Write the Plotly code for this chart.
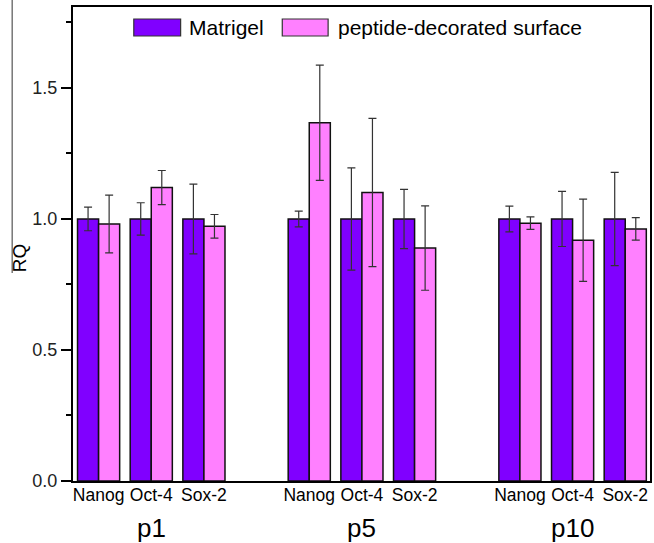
import plotly.graph_objects as go

genes = ["Nanog", "Oct-4", "Sox-2"]
passages = ["p1", "p5", "p10"]

matrigel = [1.0, 1.0, 1.0, 1.0, 1.0, 1.0, 1.0, 1.0, 1.0]
matrigel_err = [0.045, 0.062, 0.133, 0.030, 0.195, 0.113, 0.049, 0.105, 0.178]
peptide = [0.981, 1.120, 0.972, 1.367, 1.101, 0.889, 0.984, 0.919, 0.962]
peptide_err = [0.110, 0.065, 0.045, 0.220, 0.283, 0.161, 0.024, 0.157, 0.043]

# slot positions: each passage block of 3 genes, one empty slot between blocks
xpos = [pi * 4 + gi for pi in range(len(passages)) for gi in range(len(genes))]
xlabels = [g for _ in passages for g in genes]

c_mat = "#8000FF"
c_pep = "#FF80FF"
FONT = "Liberation Sans, Arial, sans-serif"

fig = go.Figure()
fig.add_trace(go.Bar(
    x=xpos, y=matrigel, name="Matrigel",
    marker=dict(color=c_mat, line=dict(color="#111", width=1.5)),
    error_y=dict(type="data", array=matrigel_err, visible=True,
                 color="#333", thickness=1.2, width=4),
))
fig.add_trace(go.Bar(
    x=xpos, y=peptide, name="peptide-decorated surface",
    marker=dict(color=c_pep, line=dict(color="#111", width=1.5)),
    error_y=dict(type="data", array=peptide_err, visible=True,
                 color="#333", thickness=1.2, width=4),
))

L, R, T, B = 73, 652, 7, 481
W, H = 654, 543
pw, ph = R - L, B - T

def px(xp):
    return (xp - L) / pw

def py(yp):
    return (B - yp) / ph

annotations = []
for pi, p in enumerate(passages):
    annotations.append(dict(x=pi * 4 + 1, xref="x", y=py(528), yref="paper",
                             text=p, showarrow=False, xanchor="center", yanchor="middle",
                             font=dict(family=FONT, size=26, color="black")))
annotations.append(dict(x=px(19), xref="paper", y=py(258), yref="paper", text="RQ",
                        textangle=-90, showarrow=False, xanchor="center", yanchor="middle",
                        font=dict(family=FONT, size=19, color="black")))
# manual legend
annotations.append(dict(x=px(187), xref="paper", y=py(27.5), yref="paper", text="Matrigel",
                        showarrow=False, xanchor="left", yanchor="middle",
                        font=dict(family=FONT, size=21, color="black")))
annotations.append(dict(x=px(337), xref="paper", y=py(27.5), yref="paper",
                        text="peptide-decorated surface",
                        showarrow=False, xanchor="left", yanchor="middle",
                        font=dict(family=FONT, size=21, color="black")))

shapes = [
    dict(type="rect", xref="paper", yref="paper", x0=px(134), x1=px(181), y0=py(36), y1=py(19),
         fillcolor=c_mat, line=dict(color="#333", width=1.2)),
    dict(type="rect", xref="paper", yref="paper", x0=px(283), x1=px(329), y0=py(36), y1=py(19),
         fillcolor=c_pep, line=dict(color="#333", width=1.2)),
    dict(type="line", xref="paper", yref="paper", x0=px(12), x1=px(12), y0=py(0), y1=py(273),
         line=dict(color="#777", width=1.5)),
]

fig.update_layout(
    width=W, height=H,
    margin=dict(l=L, r=W - R, t=T, b=H - B, pad=0),
    paper_bgcolor="white", plot_bgcolor="white",
    barmode="group", bargap=0.2, bargroupgap=0,
    showlegend=False,
    annotations=annotations, shapes=shapes,
    font=dict(family=FONT, color="black"),
    xaxis=dict(range=[-0.486, 10.47], tickvals=xpos, ticktext=xlabels,
               tickfont=dict(family=FONT, size=17.5, color="black"),
               ticks="", showgrid=False, zeroline=False, ticklabelstandoff=-3,
               showline=True, linecolor="black", linewidth=2, mirror=True),
    yaxis=dict(range=[0, 1.809], tickvals=[0, 0.5, 1.0, 1.5],
               ticktext=["0.0", "0.5", "1.0", "1.5"],
               tickfont=dict(family=FONT, size=18, color="#222"),
               ticks="outside", ticklen=10, tickwidth=1.5, tickcolor="black",
               minor=dict(tickvals=[0.25, 0.75, 1.25, 1.75], ticks="outside",
                          ticklen=5, tickwidth=1.5, tickcolor="black", showgrid=False),
               showgrid=False, zeroline=False,
               showline=True, linecolor="black", linewidth=2, mirror=True),
)

fig.write_html("out.html")
